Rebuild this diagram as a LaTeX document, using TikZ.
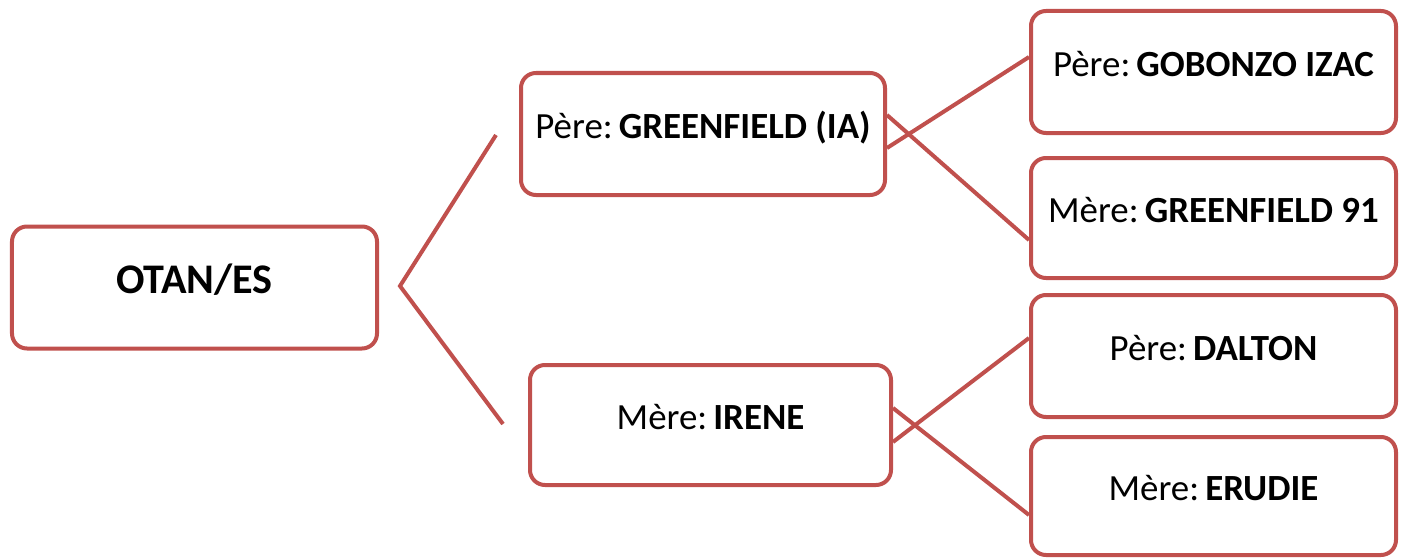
\documentclass[tikz,border=0pt]{standalone}
\usepackage{fontspec}
\setmainfont{Carlito}
\usepackage{xcolor}
\usetikzlibrary{shapes, positioning}
\definecolor{boxred}{HTML}{C0504D}

\begin{document}
\begin{tikzpicture}[
        person/.style={draw=boxred, line width=0.08cm, rounded corners=0.3cm,
            minimum width=7.3cm, minimum height=2.44cm, inner sep=0pt,
            text height=0.6cm, text depth=0.44cm, font=\fontsize{21}{25}\selectfont},
        root/.style={person, text height=0.68cm, text depth=0.44cm,
            font=\fontsize{24}{29}\selectfont\bfseries},
        link/.style={draw=boxred, line width=0.08cm}
    ]
        \useasboundingbox (0, 0) rectangle (28.1, 11.16);

        \node[root] (otan) at (3.89, 5.41) {OTAN/ES};
        \node[person, minimum width=7.28cm] (pg) at (14.06, 8.48) {Père:\,\textbf{GREENFIELD (IA)}};
        \node[person, minimum width=7.22cm, minimum height=2.4cm] (mi) at (14.21, 2.66) {Mère:\,\textbf{IRENE}};
        \node[person] (pgg) at (24.27, 9.72) {Père:\,\textbf{GOBONZO IZAC}};
        \node[person, minimum height=2.4cm] (mgg) at (24.27, 6.80) {Mère:\,\textbf{GREENFIELD 91}};
        \node[person] (pd) at (24.27, 4.04) {Père:\,\textbf{DALTON}};
        \node[person, minimum height=2.36cm] (me) at (24.27, 1.24) {Mère:\,\textbf{ERUDIE}};

        % fork next to the root
        \coordinate (fork) at (8.0, 5.44);
        \coordinate (forkup) at (9.92, 8.46);
        \coordinate (forkdown) at (10.06, 2.68);
        \draw[link] (forkup) -- (fork) -- (forkdown);

        \draw[link] ([yshift=-0.28cm]pg.east) -- ([yshift=0.30cm]pgg.west);
        \draw[link] ([yshift=0.38cm]pg.east) -- ([yshift=-0.44cm]mgg.west);
        \draw[link] ([yshift=-0.34cm]mi.east) -- ([yshift=0.36cm]pd.west);
        \draw[link] ([yshift=0.34cm]mi.east) -- ([yshift=-0.38cm]me.west);
    \end{tikzpicture}
\end{document}
